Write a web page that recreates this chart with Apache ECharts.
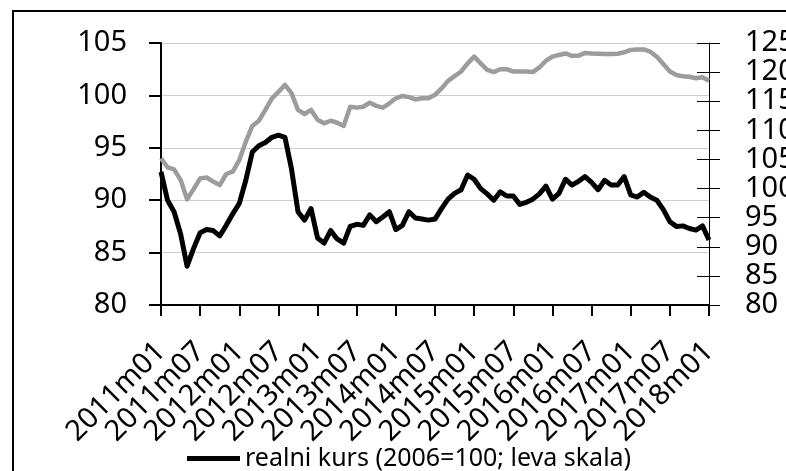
<!DOCTYPE html>
<html>
<head>
<meta charset="utf-8">
<script src="https://cdn.jsdelivr.net/npm/echarts@6/dist/echarts.min.js"></script>
<style>
  html, body { margin: 0; padding: 0; background: #fff; }
  #chart { width: 786px; height: 471px; }
</style>
</head>
<body>
<div id="chart"></div>
<script>
  // mjeseci 2011m01 - 2018m01
  var months = [
    '2011m01','2011m02','2011m03','2011m04','2011m05','2011m06','2011m07','2011m08','2011m09','2011m10','2011m11','2011m12',
    '2012m01','2012m02','2012m03','2012m04','2012m05','2012m06','2012m07','2012m08','2012m09','2012m10','2012m11','2012m12',
    '2013m01','2013m02','2013m03','2013m04','2013m05','2013m06','2013m07','2013m08','2013m09','2013m10','2013m11','2013m12',
    '2014m01','2014m02','2014m03','2014m04','2014m05','2014m06','2014m07','2014m08','2014m09','2014m10','2014m11','2014m12',
    '2015m01','2015m02','2015m03','2015m04','2015m05','2015m06','2015m07','2015m08','2015m09','2015m10','2015m11','2015m12',
    '2016m01','2016m02','2016m03','2016m04','2016m05','2016m06','2016m07','2016m08','2016m09','2016m10','2016m11','2016m12',
    '2017m01','2017m02','2017m03','2017m04','2017m05','2017m06','2017m07','2017m08','2017m09','2017m10','2017m11','2017m12',
    '2018m01'
  ];

  // realni kurs, leva skala
  var realniKurs = [
    92.7, 90.0, 88.9, 86.8, 83.7, 85.4, 86.9, 87.2, 87.1, 86.6, 87.6, 88.7,
    89.7, 91.9, 94.6, 95.2, 95.5, 96.0, 96.2, 96.0, 93.0, 88.9, 88.1, 89.2,
    86.4, 85.9, 87.1, 86.3, 85.9, 87.5, 87.7, 87.6, 88.6, 87.95, 88.4, 88.9,
    87.2, 87.6, 88.9, 88.3, 88.2, 88.1, 88.2, 89.2, 90.1, 90.65, 91.0, 92.4,
    92.0, 91.1, 90.6, 90.0, 90.8, 90.4, 90.4, 89.6, 89.8, 90.1, 90.6, 91.35,
    90.1, 90.65, 92.0, 91.45, 91.8, 92.25, 91.7, 91.0, 91.9, 91.45, 91.45, 92.25,
    90.5, 90.3, 90.75, 90.3, 90.0, 89.1, 87.95, 87.5, 87.55, 87.3, 87.15, 87.55,
    86.2
  ];

  // siva linija, desna skala
  var desnaSerija = [
    105.2, 103.65, 103.3, 101.5, 98.15, 99.9, 101.75, 101.9, 101.2, 100.6, 102.5, 102.9,
    104.9, 108.05, 110.75, 111.65, 113.5, 115.5, 116.6, 117.8, 116.4, 113.5, 112.8, 113.5,
    111.8, 111.2, 111.65, 111.3, 110.75, 114.05, 113.9, 114.05, 114.75, 114.2, 113.9, 114.65,
    115.5, 115.9, 115.7, 115.3, 115.5, 115.5, 116.1, 117.2, 118.5, 119.3, 120.1, 121.5,
    122.65, 121.5, 120.4, 120.0, 120.5, 120.5, 120.1, 120.1, 120.1, 120.0, 120.8, 121.95,
    122.65, 122.95, 123.2, 122.8, 122.8, 123.3, 123.2, 123.15, 123.1, 123.1, 123.15, 123.4,
    123.8, 123.9, 123.9, 123.5, 122.65, 121.4, 120.1, 119.5, 119.3, 119.2, 118.95, 119.1,
    118.5
  ];

  var leftTicks = [80, 105, 5];
  var rightTicks = [80, 125, 5];
  var labelStep = 6; // svaki sesti mjesec

  var FONT = 'Noto Sans';
  var myChart = echarts.init(document.getElementById('chart'));

  function everySixth(i) { return i % labelStep === 0; }

  var option = {
    animation: false,
    textStyle: { fontFamily: FONT, color: '#000' },
    graphic: [{
      type: 'rect',
      shape: { x: 13, y: 11, width: 900, height: 700 },
      style: { fill: 'none', stroke: '#000', lineWidth: 2 },
      silent: true
    }],
    grid: [
      { left: 161, right: 77, top: 43, bottom: 166, outerBoundsMode: 'none' },
      // uska traka ispod x ose, za kvacice
      { left: 161, right: 77, top: 305, height: 11, outerBoundsMode: 'none' }
    ],
    legend: {
      data: ['realni kurs (2006=100; leva skala)'],
      left: 187,
      top: 446,
      padding: 0,
      icon: 'rect',
      itemWidth: 53,
      itemHeight: 5,
      textStyle: { fontFamily: FONT, fontSize: 25, color: '#000' }
    },
    xAxis: [
      {
        // natpisi: svi se crtaju, prazni osim svakog sestog
        type: 'category',
        gridIndex: 0,
        boundaryGap: false,
        data: months,
        axisLine: { lineStyle: { color: '#000', width: 2 } },
        axisTick: { show: true, interval: everySixth, length: 11, lineStyle: { color: '#000', width: 2 } },
        axisLabel: {
          interval: 0,
          rotate: 45,
          margin: 42,
          fontFamily: FONT,
          fontSize: 29,
          color: '#000',
          formatter: function (v, i) { return everySixth(i) ? v : ''; }
        }
      },
      {
        // kvacice kao vertikalne linije u donjoj traci
        type: 'category',
        gridIndex: 1,
        boundaryGap: false,
        data: months,
        axisLine: { show: false },
        axisTick: { show: false },
        axisLabel: { show: false },
        splitLine: { show: true, interval: everySixth, lineStyle: { color: '#000', width: 2 } }
      }
    ],
    yAxis: [
      {
        type: 'value',
        gridIndex: 0,
        position: 'left',
        min: leftTicks[0], max: leftTicks[1], interval: leftTicks[2],
        axisLine: { show: true, lineStyle: { color: '#000', width: 2 } },
        axisTick: { show: true, length: 12, lineStyle: { color: '#000', width: 2 } },
        axisLabel: { margin: 34, fontFamily: FONT, fontSize: 29, color: '#000' },
        splitLine: { lineStyle: { color: '#cfcfcf', width: 1 } }
      },
      {
        type: 'value',
        gridIndex: 0,
        position: 'right',
        min: rightTicks[0], max: rightTicks[1], interval: rightTicks[2],
        axisLine: { show: true, lineStyle: { color: '#000', width: 1 } },
        axisTick: { show: true, length: 11, lineStyle: { color: '#000', width: 1 } },
        axisLabel: { margin: 36, fontFamily: FONT, fontSize: 29, color: '#000' },
        splitLine: { show: false }
      },
      {
        // unutrasnji dio kvacica desne ose
        type: 'value',
        gridIndex: 0,
        position: 'right',
        min: rightTicks[0], max: rightTicks[1], interval: rightTicks[2],
        axisLine: { show: false },
        axisTick: { show: true, inside: true, length: 12, lineStyle: { color: '#000', width: 1 } },
        axisLabel: { show: false },
        splitLine: { show: false }
      },
      {
        type: 'value',
        gridIndex: 1,
        min: 0, max: 1,
        show: false
      }
    ],
    series: [
      {
        name: 'desna skala',
        type: 'line',
        xAxisIndex: 0,
        yAxisIndex: 1,
        data: desnaSerija,
        showSymbol: false,
        lineStyle: { color: '#9c9c9c', width: 4.5, join: 'round' },
        itemStyle: { color: '#9c9c9c' }
      },
      {
        name: 'realni kurs (2006=100; leva skala)',
        type: 'line',
        xAxisIndex: 0,
        yAxisIndex: 0,
        data: realniKurs,
        showSymbol: false,
        lineStyle: { color: '#000', width: 5, join: 'round' },
        itemStyle: { color: '#000' }
      }
    ]
  };
  myChart.setOption(option);
</script>
</body>
</html>
